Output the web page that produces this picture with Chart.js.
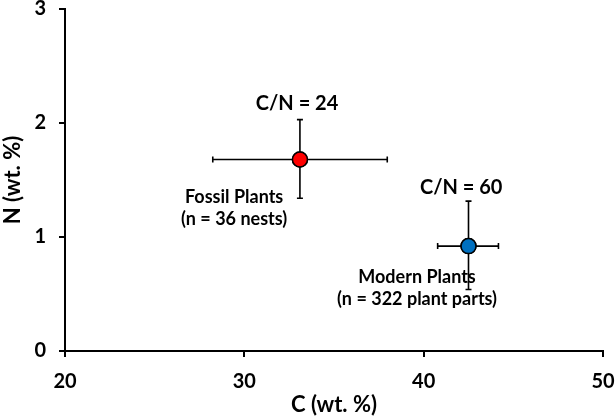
<!DOCTYPE html>
<html lang="en">
<head>
  <meta charset="UTF-8" />
  <title>C vs N</title>
  <script src="https://cdn.jsdelivr.net/npm/chart.js"></script>
  <style>
    html, body { margin: 0; padding: 0; background: #fff; }
    #wrap { width: 615px; height: 418px; }
  </style>
</head>
<body>
  <div id="wrap"><canvas id="cn"></canvas></div>
  <script>
    // data
    const groups = ['Fossil Plants', 'Modern Plants'];
    const carbon = [33.1, 42.5];
    const nitrogen = [1.68, 0.92];
    const cLow = [28.24, 40.78];
    const cHigh = [37.97, 44.17];
    const nLow = [1.34, 0.54];
    const nHigh = [2.03, 1.315];
    const pointColors = ['#FF0000', '#0070C0'];
    const ratioLabels = ['C/N = 24', 'C/N = 60'];
    const groupLines = [['Fossil Plants', '(n = 36 nests)'], ['Modern Plants', '(n = 322 plant parts)']];
    // where the annotations sit, in data units
    const ratioPos = [[32.94, 2.17], [42.09, 1.434]];
    const groupPos = [[29.43, 1.255], [39.63, 0.555]];

    const FONT = 'Lato, "DejaVu Sans", sans-serif';

    const errorBars = {
      id: 'errorBars',
      afterDatasetsDraw(chart) {
        const { ctx, scales: { x, y } } = chart;
        ctx.save();
        ctx.strokeStyle = '#000';
        ctx.lineWidth = 1.6;
        const cap = 3;
        carbon.forEach((c, i) => {
          const px = x.getPixelForValue(c), py = y.getPixelForValue(nitrogen[i]);
          const x0 = x.getPixelForValue(cLow[i]), x1 = x.getPixelForValue(cHigh[i]);
          const y0 = y.getPixelForValue(nLow[i]), y1 = y.getPixelForValue(nHigh[i]);
          ctx.beginPath();
          ctx.moveTo(x0, py); ctx.lineTo(x1, py);
          ctx.moveTo(x0, py - cap); ctx.lineTo(x0, py + cap);
          ctx.moveTo(x1, py - cap); ctx.lineTo(x1, py + cap);
          ctx.moveTo(px, y0); ctx.lineTo(px, y1);
          ctx.moveTo(px - cap, y0); ctx.lineTo(px + cap, y0);
          ctx.moveTo(px - cap, y1); ctx.lineTo(px + cap, y1);
          ctx.stroke();
        });
        ctx.restore();
      }
    };

    // redraw points on top of the error bars
    const pointsOnTop = {
      id: 'pointsOnTop',
      afterDraw(chart) {
        const meta = chart.getDatasetMeta(0);
        const { ctx } = chart;
        ctx.save();
        meta.data.forEach(pt => pt.draw(ctx, chart.chartArea));
        ctx.restore();
      }
    };

    const notes = {
      id: 'notes',
      afterDraw(chart) {
        const { ctx, scales: { x, y } } = chart;
        ctx.save();
        ctx.fillStyle = '#000';
        ctx.textAlign = 'center';
        ctx.textBaseline = 'middle';
        ratioLabels.forEach((t, i) => {
          ctx.font = 'bold 20px ' + FONT;
          ctx.fillText(t, x.getPixelForValue(ratioPos[i][0]), y.getPixelForValue(ratioPos[i][1]));
        });
        groupLines.forEach((lines, i) => {
          ctx.font = 'bold 18px ' + FONT;
          const gx = x.getPixelForValue(groupPos[i][0]);
          const gy = y.getPixelForValue(groupPos[i][1]);
          lines.forEach((t, k) => ctx.fillText(t, gx, gy - 11 + k * 22));
        });
        ctx.restore();
      }
    };

    new Chart(document.getElementById('cn'), {
      type: 'scatter',
      data: {
        datasets: [{
          label: 'C/N',
          data: carbon.map((c, i) => ({ x: c, y: nitrogen[i] })),
          backgroundColor: pointColors,
          borderColor: '#000',
          borderWidth: 1.5,
          pointRadius: 7.5,
          pointHoverRadius: 7.5
        }]
      },
      options: {
        responsive: true,
        maintainAspectRatio: false,
        animation: false,
        events: [],
        layout: { padding: { top: 8, right: 12, left: 0, bottom: 0 } },
        plugins: { legend: { display: false }, tooltip: { enabled: false } },
        scales: {
          x: {
            type: 'linear', min: 20, max: 50,
            afterFit: s => { s.height = 67; s.paddingLeft = 0; s.paddingRight = 0; },
            ticks: { stepSize: 10, color: '#000', padding: 13, font: { family: FONT, size: 20, weight: 'bold' } },
            grid: { drawOnChartArea: false, drawTicks: true, tickLength: 6, color: '#000', lineWidth: 2 },
            border: { color: '#000', width: 2 },
            title: { display: true, text: 'C (wt. %)', color: '#000', padding: { top: 0, bottom: 0 }, font: { family: FONT, size: 22, weight: 'bold' } }
          },
          y: {
            type: 'linear', min: 0, max: 3,
            afterFit: s => { s.width = 65; s.paddingTop = 0; s.paddingBottom = 0; },
            ticks: { stepSize: 1, color: '#000', padding: 13, font: { family: FONT, size: 20, weight: 'bold' } },
            grid: { drawOnChartArea: false, drawTicks: true, tickLength: 6, color: '#000', lineWidth: 2 },
            border: { color: '#000', width: 2 },
            title: { display: true, text: 'N (wt. %)', color: '#000', padding: { top: 0, bottom: 0 }, font: { family: FONT, size: 22, weight: 'bold' } }
          }
        }
      },
      plugins: [errorBars, pointsOnTop, notes]
    });
  </script>
</body>
</html>
